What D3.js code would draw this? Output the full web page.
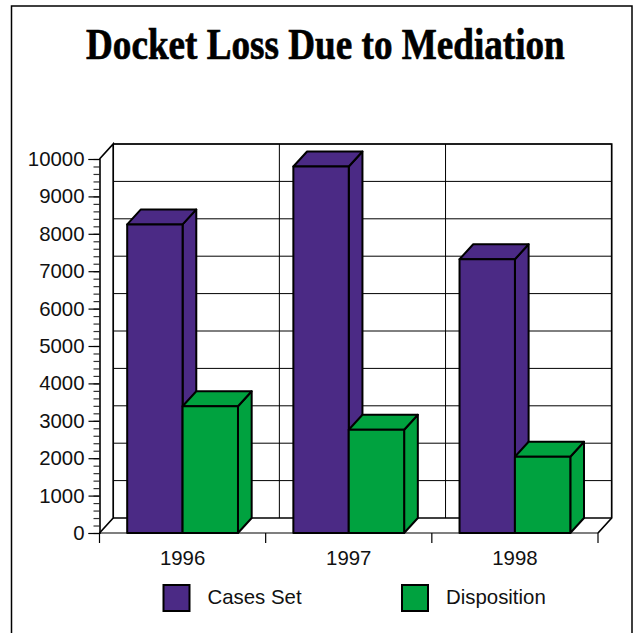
<!DOCTYPE html>
<meta charset="utf-8">
<style>
  body { margin: 0; background: #fff; }
  svg { display: block; }
  text { font-family: "Liberation Sans", sans-serif; fill: #111; }
  .title { font-family: "Liberation Serif", serif; font-weight: bold; fill: #000; stroke: #000; stroke-width: 0.7; }
</style>
<script src="https://d3js.org/d3.v7.min.js"></script>
<div id="chart"></div>
<script>
// values
var years = ["1996", "1997", "1998"];
var casesSet = [8250, 9800, 7320];
var disposition = [3390, 2760, 2040];
var seriesNames = ["Cases Set", "Disposition"];
var seriesColors = ["#4b2a85", "#00a23f"];
var majorTicks = [0, 1000, 2000, 3000, 4000, 5000, 6000, 7000, 8000, 9000, 10000];

var width = 643, height = 633;
var left = 99.5, right = 598, top_ = 159, bottom = 533;
var depthX = 13.7, depthY = -15; // 3d offset of the back wall

var svg = d3.select("#chart").append("svg")
  .attr("width", width)
  .attr("height", height);

// page frame, open at the bottom
svg.append("path")
  .attr("d", "M11.5,640V6H632V640")
  .attr("fill", "none")
  .attr("stroke", "#000")
  .attr("stroke-width", 1.5);

// title font is narrower in the original, so squeeze it to the same width
var title = svg.append("text")
  .attr("class", "title")
  .attr("font-size", 45)
  .text("Docket Loss Due to Mediation");
title.attr("transform", "translate(86,59) scale(" + (479 / title.node().getComputedTextLength()) + ",1)");

var x = d3.scaleBand().domain(years).range([left, right]);
var y = d3.scaleLinear().domain([0, 10000]).range([bottom, top_]);
var barW = x.bandwidth() / 3;
var pad = x.bandwidth() / 6;

// back wall grid
var grid = svg.append("g").attr("fill", "none").attr("stroke", "#000").attr("stroke-width", 1);
majorTicks.slice(1).forEach(function (v) {
  grid.append("line")
    .attr("x1", left + depthX).attr("x2", right + depthX)
    .attr("y1", y(v) + depthY).attr("y2", y(v) + depthY);
});
years.slice(1).forEach(function (d) {
  grid.append("line")
    .attr("x1", x(d) + depthX).attr("x2", x(d) + depthX)
    .attr("y1", top_ + depthY).attr("y2", bottom + depthY);
});

// walls and floor
var walls = svg.append("g").attr("fill", "none").attr("stroke", "#000").attr("stroke-width", 1.7);
walls.append("path").attr("d", d3.line()([
  [left, top_], [left + depthX, top_ + depthY], [left + depthX, bottom + depthY], [left, bottom]
]));
walls.append("path").attr("d", d3.line()([
  [left + depthX, top_ + depthY], [right + depthX, top_ + depthY], [right + depthX, bottom + depthY], [right, bottom]
]));
walls.append("path").attr("d", d3.line()([
  [left + depthX, bottom + depthY], [right + depthX, bottom + depthY]
]));

// axes
var yMinor = d3.range(0, 10001, 200);
svg.append("g")
  .attr("transform", "translate(" + left + ",0)")
  .call(d3.axisLeft(y).tickValues(yMinor).tickSize(6).tickFormat(""))
  .call(function (g) { g.selectAll("line").attr("stroke-width", 1.2).attr("stroke", "#333"); });

svg.append("g")
  .attr("transform", "translate(" + left + ",0)")
  .call(d3.axisLeft(y).tickValues(majorTicks).tickSize(11).tickPadding(4).tickFormat(d3.format("d")))
  .call(function (g) {
    g.selectAll("line").attr("stroke-width", 1.2);
    g.select(".domain").attr("stroke-width", 1.2);
    g.selectAll("text").attr("font-size", 20.4).attr("font-family", null);
  });

svg.append("g")
  .attr("transform", "translate(0," + bottom + ")")
  .call(d3.axisBottom(x).tickSize(0).tickPadding(18))
  .call(function (g) {
    g.select(".domain").remove();
    g.selectAll("text").attr("font-size", 20.4).attr("font-family", null);
  });

// x ticks sit between the categories
svg.append("g").selectAll("line")
  .data(years.concat("end"))
  .join("line")
  .attr("x1", function (d) { return d === "end" ? right : x(d); })
  .attr("x2", function (d) { return d === "end" ? right : x(d); })
  .attr("y1", bottom).attr("y2", bottom + 10)
  .attr("stroke", "#000").attr("stroke-width", 1.2);

svg.append("line")
  .attr("x1", left).attr("x2", right)
  .attr("y1", bottom).attr("y2", bottom)
  .attr("stroke", "#000").attr("stroke-width", 1.2);

// one 3d box: side, top, front
function box(g, x0, v, color) {
  var x1 = x0 + barW, yv = y(v), yb = y(0);
  var faces = [
    [[x1, yv], [x1 + depthX, yv + depthY], [x1 + depthX, yb + depthY], [x1, yb]],
    [[x0, yv], [x0 + depthX, yv + depthY], [x1 + depthX, yv + depthY], [x1, yv]],
    [[x0, yv], [x1, yv], [x1, yb], [x0, yb]]
  ];
  g.selectAll("path.face" + Math.round(x0))
    .data(faces)
    .join("path")
    .attr("class", "face" + Math.round(x0))
    .attr("d", function (d) { return d3.line()(d) + "Z"; })
    .attr("fill", color)
    .attr("stroke", "#000")
    .attr("stroke-width", 2)
    .attr("stroke-linejoin", "round");
}

var bars = svg.append("g");
years.forEach(function (d, i) {
  box(bars, x(d) + pad, casesSet[i], seriesColors[0]);
  box(bars, x(d) + pad + barW, disposition[i], seriesColors[1]);
});

// legend
var legendX = d3.scaleOrdinal().domain(seriesNames).range([163.5, 402]);
var legend = svg.append("g").selectAll("g")
  .data(seriesNames)
  .join("g")
  .attr("transform", function (d) { return "translate(" + legendX(d) + ",585)"; });
legend.append("rect")
  .attr("width", 26).attr("height", 26)
  .attr("fill", function (d, i) { return seriesColors[i]; })
  .attr("stroke", "#000").attr("stroke-width", 2);
legend.append("text")
  .attr("x", 44).attr("y", 18.5)
  .attr("font-size", 20.4)
  .text(function (d) { return d; });
</script>
